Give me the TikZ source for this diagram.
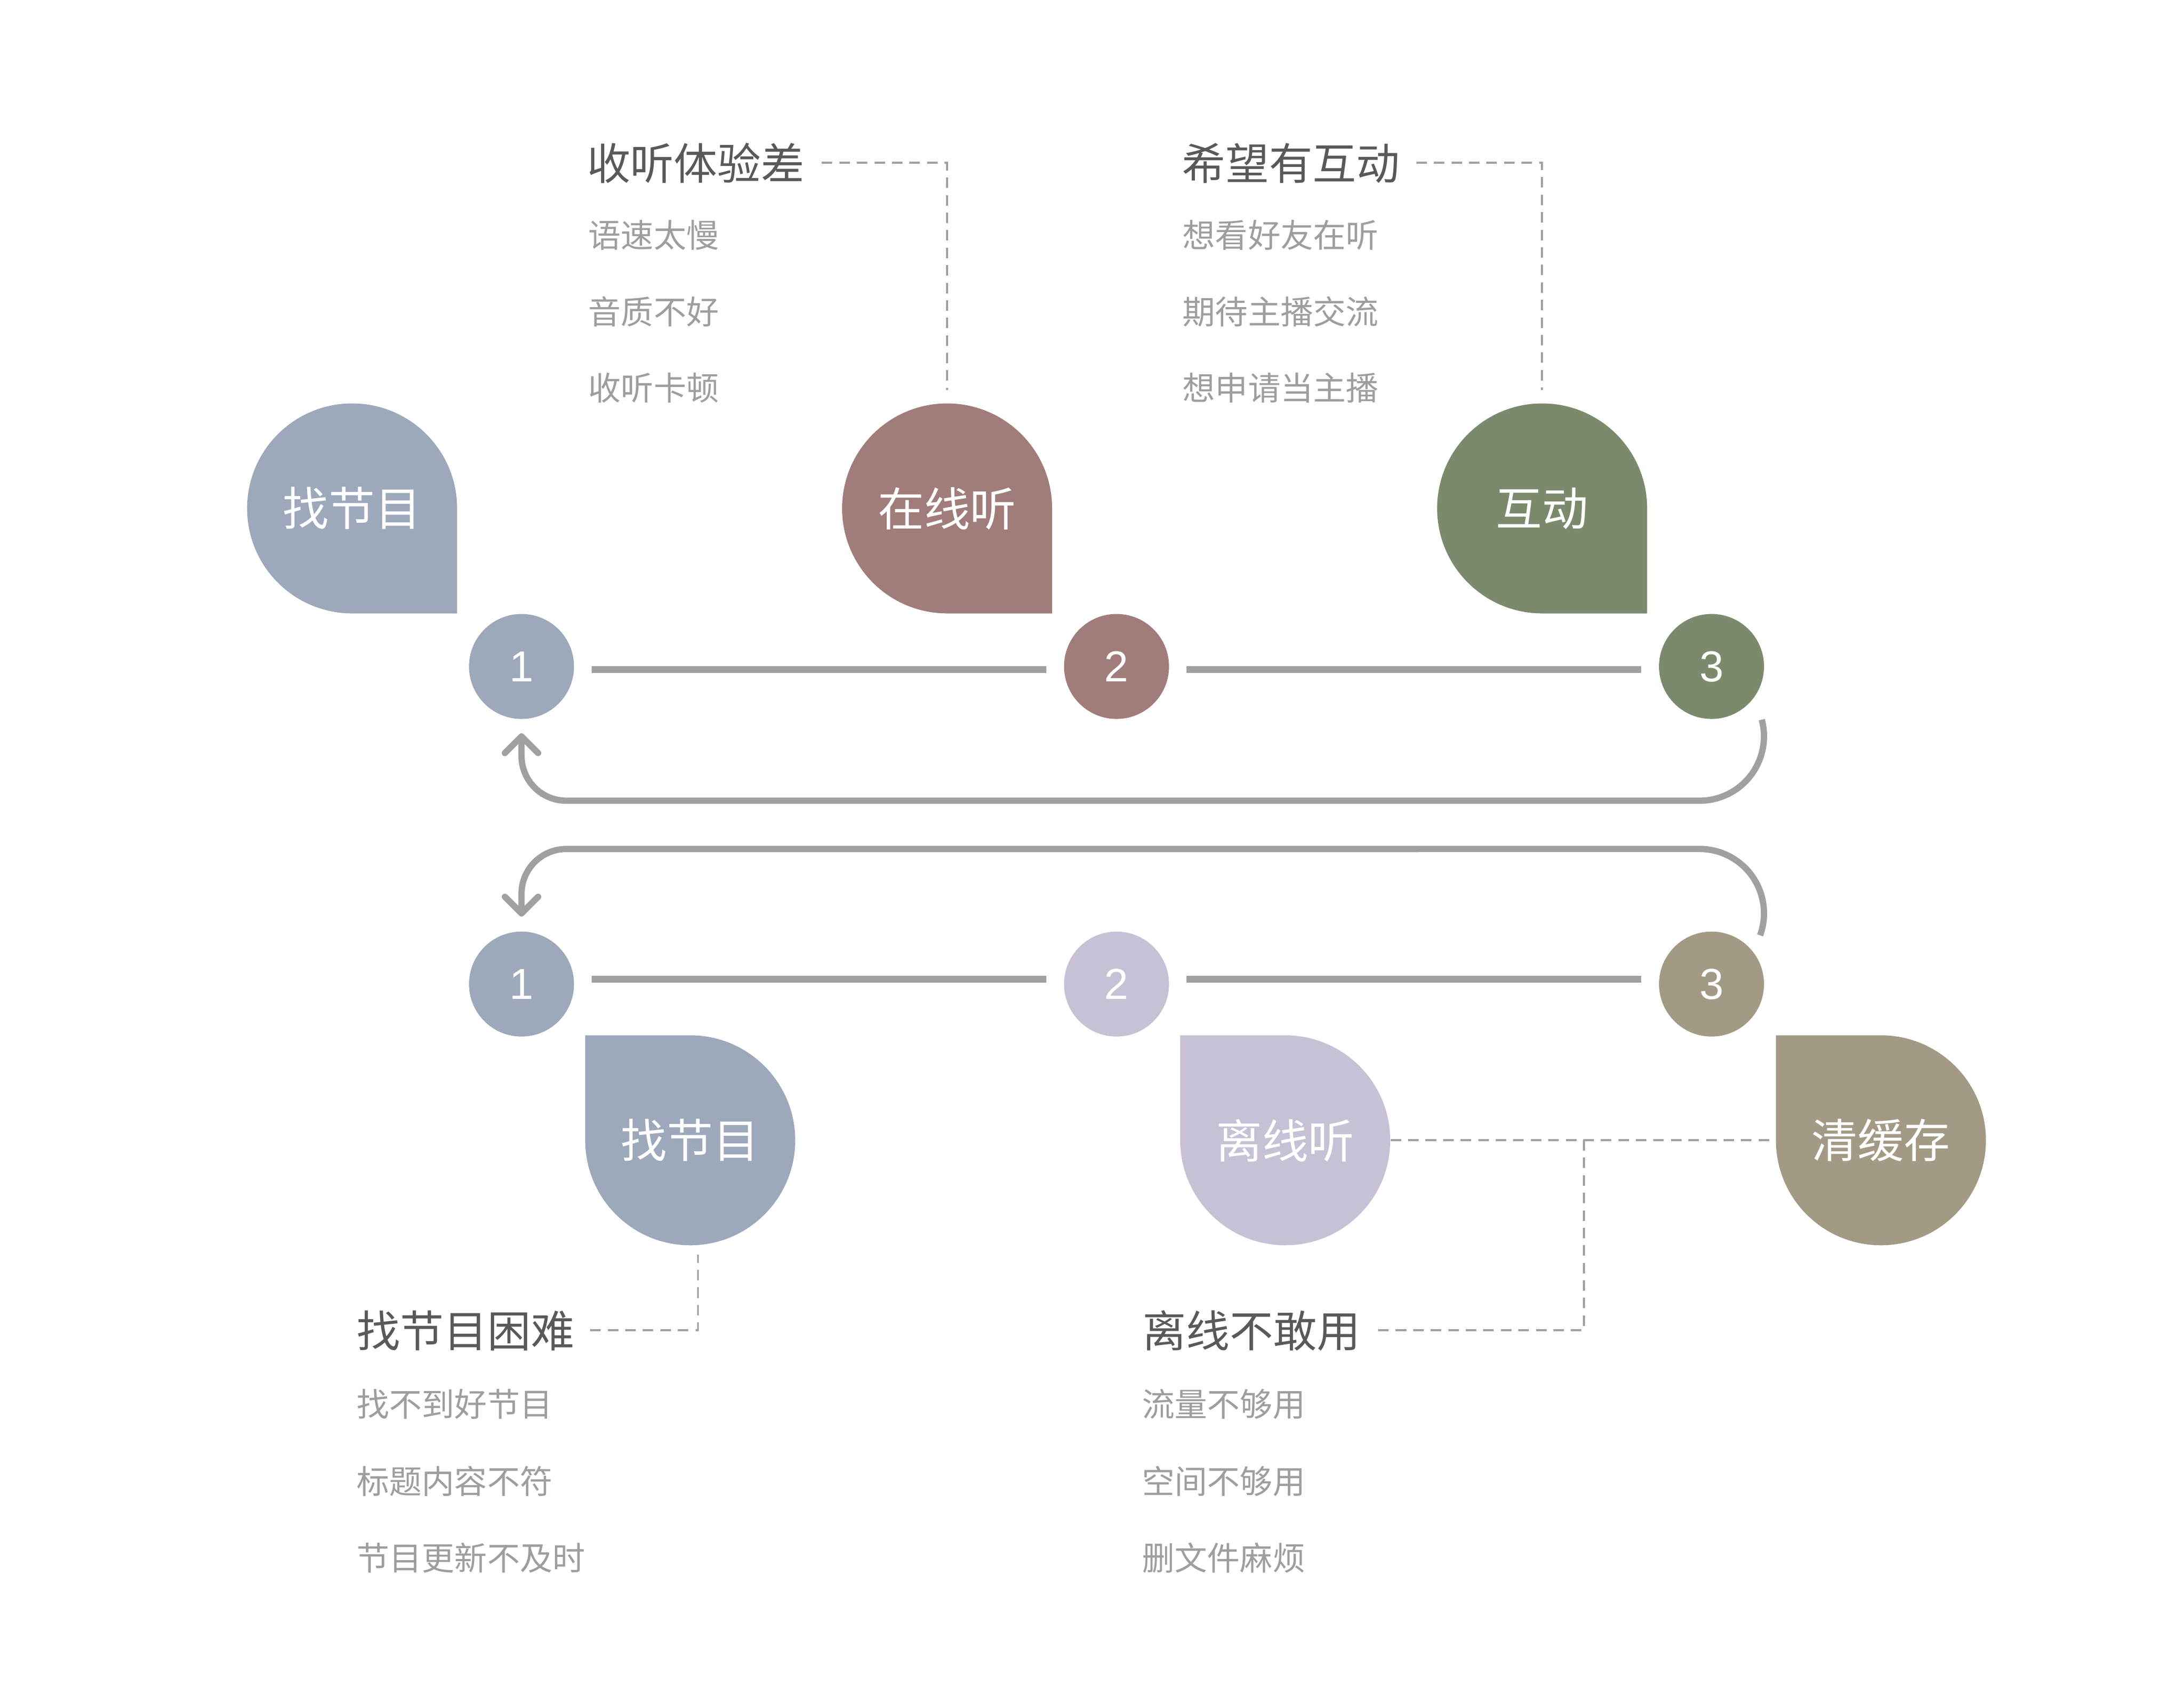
\documentclass[tikz,border=0pt]{standalone}
\usepackage{fontspec}
\setmainfont{Noto Sans CJK SC}
\newfontfamily\numfont{Liberation Sans}
\usetikzlibrary{arrows.meta,backgrounds,calc}
\definecolor{cblue}{HTML}{9DA8BA}
\definecolor{cmauve}{HTML}{A07D7B}
\definecolor{cgreen}{HTML}{7B8A6C}
\definecolor{clav}{HTML}{C8C1D6}
\definecolor{ckhaki}{HTML}{A39A86}
\definecolor{linegray}{HTML}{A0A0A0}
\definecolor{titlegray}{HTML}{595959}
\definecolor{itemgray}{HTML}{9E9E9E}
\tikzset{
  num/.style={circle, minimum size=2cm, inner sep=0pt, text=white,
    font=\numfont\fontsize{23.5pt}{26pt}\selectfont},
  drop/.style={circle, minimum size=4cm, inner sep=0pt, text=white,
    font=\fontsize{25pt}{30pt}\selectfont},
  title/.style={anchor=west, inner sep=0pt, text=titlegray,
    font=\fontsize{23.6pt}{28pt}\selectfont},
  item/.style={anchor=west, inner sep=0pt, text=itemgray,
    font=\fontsize{17.7pt}{21pt}\selectfont},
  track/.style={draw=linegray, line width=3.5pt, shorten <=0.33cm, shorten >=0.33cm},
  flow/.style={draw=linegray, line width=3.4pt,
    -{Straight Barb[length=9pt,width=18pt,round]}},
  leader/.style={draw=linegray, line width=1.1pt, dash pattern=on 5.7pt off 3.8pt},
}
\begin{document}
\begin{tikzpicture}[x=0.0266667cm, y=-0.0266667cm]
\useasboundingbox (0,0) rectangle (1560,1210.875);

% teardrop nodes (text)
\node[drop] (td1) at (251.5,363.2) {找节目};
\node[drop] (td2) at (676.5,363.2) {在线听};
\node[drop] (td3) at (1101.5,363.2) {互动};
\node[drop] (td4) at (493,814.6) {找节目};
\node[drop] (td5) at (918,814.6) {离线听};
\node[drop] (td6) at (1343.5,814.6) {清缓存};

\begin{scope}[on background layer]
  \fill[cblue]  (td1.center) ++(75,0) -- ++(0,75) -- ++(-75,0) arc[start angle=90,end angle=360,radius=75] -- cycle;
  \fill[cmauve] (td2.center) ++(75,0) -- ++(0,75) -- ++(-75,0) arc[start angle=90,end angle=360,radius=75] -- cycle;
  \fill[cgreen] (td3.center) ++(75,0) -- ++(0,75) -- ++(-75,0) arc[start angle=90,end angle=360,radius=75] -- cycle;
  \fill[cblue]  (td4.center) ++(-75,0) -- ++(0,-75) -- ++(75,0) arc[start angle=270,end angle=540,radius=75] -- cycle;
  \fill[clav]   (td5.center) ++(-75,0) -- ++(0,-75) -- ++(75,0) arc[start angle=270,end angle=540,radius=75] -- cycle;
  \fill[ckhaki] (td6.center) ++(-75,0) -- ++(0,-75) -- ++(75,0) arc[start angle=270,end angle=540,radius=75] -- cycle;
\end{scope}

% step circles
\node[num, fill=cblue]  (c11) at (372.5,476.1) {1};
\node[num, fill=cmauve] (c12) at (797.5,476.1) {2};
\node[num, fill=cgreen] (c13) at (1222.5,476.1) {3};
\node[num, fill=cblue]  (c21) at (372.5,703) {1};
\node[num, fill=clav]   (c22) at (797.5,703) {2};
\node[num, fill=ckhaki] (c23) at (1222.5,703) {3};

% tracks
\draw[track] ([yshift=-1.66pt]c11.east) -- ([yshift=-1.66pt]c12.west);
\draw[track] ([yshift=-1.66pt]c12.east) -- ([yshift=-1.66pt]c13.west);
\draw[track] ([yshift=2.65pt]c21.east) -- ([yshift=2.65pt]c22.west);
\draw[track] ([yshift=2.65pt]c22.east) -- ([yshift=2.65pt]c23.west);

% loop arrows
\coordinate (a1s) at ($(c13)+(35.9,38)$);
\coordinate (a1e) at ($(c11.south)+(0,10)$);
\draw[flow] (a1s) arc[start angle=-15,end angle=90,radius=46] -- (404.5,572)
  arc[start angle=90,end angle=180,radius=32] -- (a1e);
\coordinate (a2s) at ($(c23)+(34.7,-34.8)$);
\coordinate (a2e) at ($(c21.north)+(0,-10.5)$);
\draw[flow] (a2s) arc[start angle=20,end angle=-90,radius=46] -- (404.5,606.5)
  arc[start angle=-90,end angle=-180,radius=32] -- (a2e);

% text blocks
\node[title] (t1) at (419,116.5) {收听体验差};
\node[item] (t1a) at (420,167.8) {语速太慢};
\node[item] (t1b) at (420,222.8) {音质不好};
\node[item] (t1c) at (420,277) {收听卡顿};

\node[title] (t2) at (844,116.5) {希望有互动};
\node[item] (t2a) at (844.5,167.8) {想看好友在听};
\node[item] (t2b) at (844.5,222.8) {期待主播交流};
\node[item] (t2c) at (844.5,277) {想申请当主播};

\node[title] (t3) at (254.5,950.5) {找节目困难};
\node[item] (t3a) at (254.5,1003) {找不到好节目};
\node[item] (t3b) at (254.5,1058) {标题内容不符};
\node[item] (t3c) at (254.5,1113) {节目更新不及时};

\node[title] (t4) at (816,950.5) {离线不敢用};
\node[item] (t4a) at (815.5,1003) {流量不够用};
\node[item] (t4b) at (815.5,1058) {空间不够用};
\node[item] (t4c) at (815.5,1113) {删文件麻烦};

% dashed leaders
\coordinate (d1s) at (587,116.2);
\draw[leader] (d1s) -| ([yshift=7.1pt]td2.north);
\coordinate (d2s) at (1011.7,116.2);
\draw[leader] (d2s) -| ([yshift=7.1pt]td3.north);
\coordinate (d3s) at (421.6,950.4);
\draw[leader] (d3s) -| ([xshift=4.2pt,yshift=-4.8pt]td4.south);
\draw[leader] (td5.east) -- (td6.west);
\coordinate (j1) at (1131.4,814.6);
\coordinate (d5s) at (984.4,950.4);
\draw[leader] (d5s) -| (j1);
\end{tikzpicture}
\end{document}
